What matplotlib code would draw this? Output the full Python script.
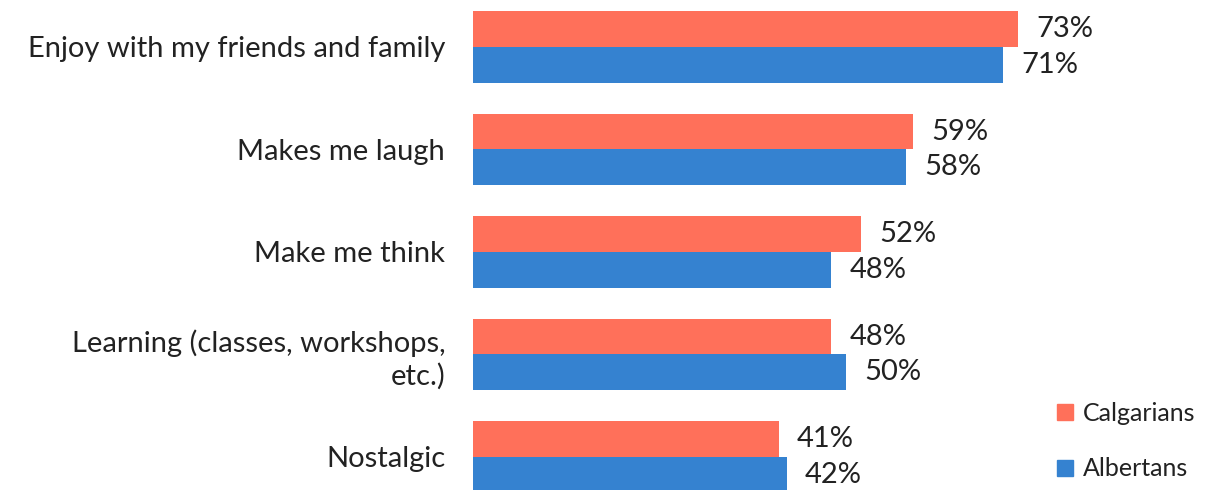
import matplotlib
matplotlib.use("Agg")
import matplotlib.pyplot as plt
from matplotlib.lines import Line2D
import numpy as np

plt.rcParams['font.family'] = ['Lato', 'DejaVu Sans']

categories = [
    "Enjoy with my friends and family",
    "Makes me laugh",
    "Make me think",
    "Learning (classes, workshops,\netc.)",
    "Nostalgic",
]
calgarians = [73, 59, 52, 48, 41]
albertans = [71, 58, 48, 50, 42]
series_names = ["Calgarians", "Albertans"]
colors = ["#FF705A", "#3582D0"]
text_color = "#222222"

fig = plt.figure(figsize=(12.15, 4.9), dpi=100)
ax = fig.add_axes([473 / 1215, 0.0, 1 - 473 / 1215, 1.0])

y = np.arange(len(categories))
h = 0.35
b1 = ax.barh(y - h / 2, calgarians, height=h, color=colors[0])
b2 = ax.barh(y + h / 2, albertans, height=h, color=colors[1])

for bars, vals in ((b1, calgarians), (b2, albertans)):
    for bar, v in zip(bars, vals):
        ax.annotate(f"{v}%", (v, bar.get_y() + bar.get_height() / 2),
                    xytext=(13, 0), textcoords="offset points",
                    va="center", ha="left", fontsize=21, color=text_color)

ax.set_xlim(0, 99.4)
ax.set_ylim(4.322, -0.4585)
ax.set_yticks(y)
ax.set_yticklabels(categories, fontsize=21, color=text_color, ha="right",
                   linespacing=1.25)
ax.tick_params(axis="y", length=0, pad=20)
ax.set_xticks([])
for s in ax.spines.values():
    s.set_visible(False)

handles = [Line2D([], [], marker="s", linestyle="none", markersize=11,
                  color=c) for c in colors]
fig.legend(handles, series_names, loc="center left",
           bbox_to_anchor=(1030 / 1215, 1 - 441 / 490), frameon=False,
           labelspacing=1.3, handletextpad=0.2,
           handlelength=1.0, labelcolor=text_color,
           prop={"size": 18})

fig.savefig("out.png", dpi=100)
